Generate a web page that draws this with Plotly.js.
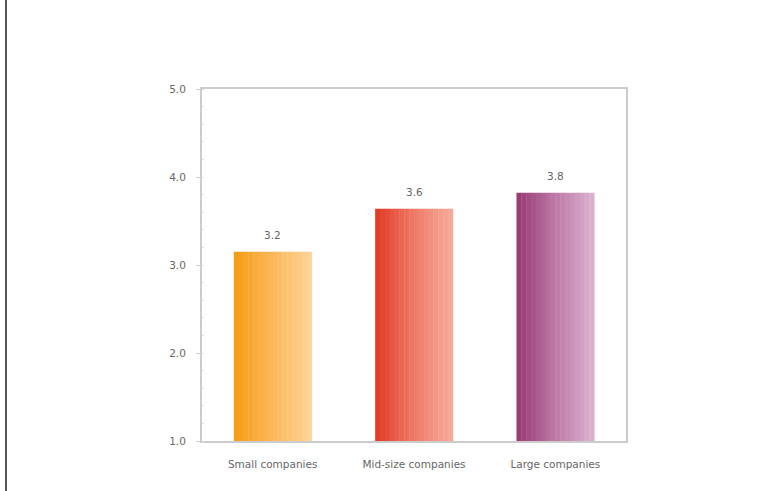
<!DOCTYPE html>
<html>
<head>
<meta charset="utf-8">
<script src="https://cdn.plot.ly/plotly-3.0.1.min.js"></script>
<style>
  html, body { margin: 0; padding: 0; background: #fff; }
  #chart { width: 780px; height: 491px; }
</style>
</head>
<body>
<div id="chart"></div>
<script>
// ---- data ----
const categories = ["Small companies", "Mid-size companies", "Large companies"];
const values = [3.15, 3.64, 3.82];
const valueLabels = ["3.2", "3.6", "3.8"];
const yTickVals = [1, 2, 3, 4, 5];
const yTickText = ["1.0", "2.0", "3.0", "4.0", "5.0"];

// ---- style ----
const gradients = [
  ["#f59c10", "#fbb85a", "#ffd49a"],
  ["#e03a24", "#ee7a68", "#f6ad9c"],
  ["#973a72", "#bd78a6", "#ddb4d2"]
];
const barWidth = 0.55;
const strips = 16;

function hexToRgb(h) { return [1,3,5].map(i => parseInt(h.substr(i,2),16)); }
function mix(a, b, t) {
  const A = hexToRgb(a), B = hexToRgb(b);
  return "rgb(" + A.map((v,i) => Math.round(v + (B[i]-v)*t)).join(",") + ")";
}
function gradColor(stops, t) {
  if (t <= 0.5) return mix(stops[0], stops[1], t/0.5);
  return mix(stops[1], stops[2], (t-0.5)/0.5);
}

const traces = [];
const w = barWidth / strips;
for (let i = 0; i < strips; i++) {
  const t = (i + 0.5) / strips;
  traces.push({
    type: "bar",
    x: categories,
    y: values.map(v => v - 1),
    base: 1,
    width: categories.map(() => w * 1.08),
    offset: categories.map(() => -barWidth/2 + i*w),
    marker: { color: gradients.map(g => gradColor(g, t)), line: { width: 0 } },
    hoverinfo: "skip",
    showlegend: false
  });
}

const annotations = categories.map((c, i) => ({
  x: c, y: values[i], xref: "x", yref: "y",
  text: valueLabels[i], showarrow: false,
  yanchor: "bottom", yshift: 9,
  font: { family: "DejaVu Sans", size: 10.5, color: "#666" }
}));

const layout = {
  width: 780,
  height: 491,
  margin: { l: 202, r: 154, t: 89, b: 50 },
  paper_bgcolor: "#fff",
  plot_bgcolor: "#fff",
  barmode: "overlay",
  font: { family: "DejaVu Sans", color: "#666", size: 10 },
  xaxis: {
    type: "category",
    showline: true, linecolor: "#cccccc", linewidth: 2, mirror: true,
    ticks: "", showgrid: false, zeroline: false,
    ticklabelstandoff: 12,
    tickfont: { family: "DejaVu Sans", size: 10.5, color: "#666" }
  },
  yaxis: {
    range: [1, 5],
    tickvals: yTickVals, ticktext: yTickText,
    showline: true, linecolor: "#cccccc", linewidth: 2, mirror: true,
    ticks: "outside", ticklen: 4, tickcolor: "#d0d0d0",
    ticklabelstandoff: 8,
    showgrid: false, zeroline: false,
    tickfont: { family: "DejaVu Sans", size: 10.5, color: "#666" },
    minor: { ticks: "inside", ticklen: 2, tickcolor: "#dddddd", dtick: 0.2 }
  },
  annotations: annotations,
  shapes: [{
    type: "line", xref: "paper", yref: "paper",
    x0: -0.4623, x1: -0.4623, y0: -0.15, y1: 1.26,
    line: { color: "#555", width: 2 }
  }]
};

Plotly.newPlot("chart", traces, layout, { displayModeBar: false, staticPlot: true });
</script>
</body>
</html>
